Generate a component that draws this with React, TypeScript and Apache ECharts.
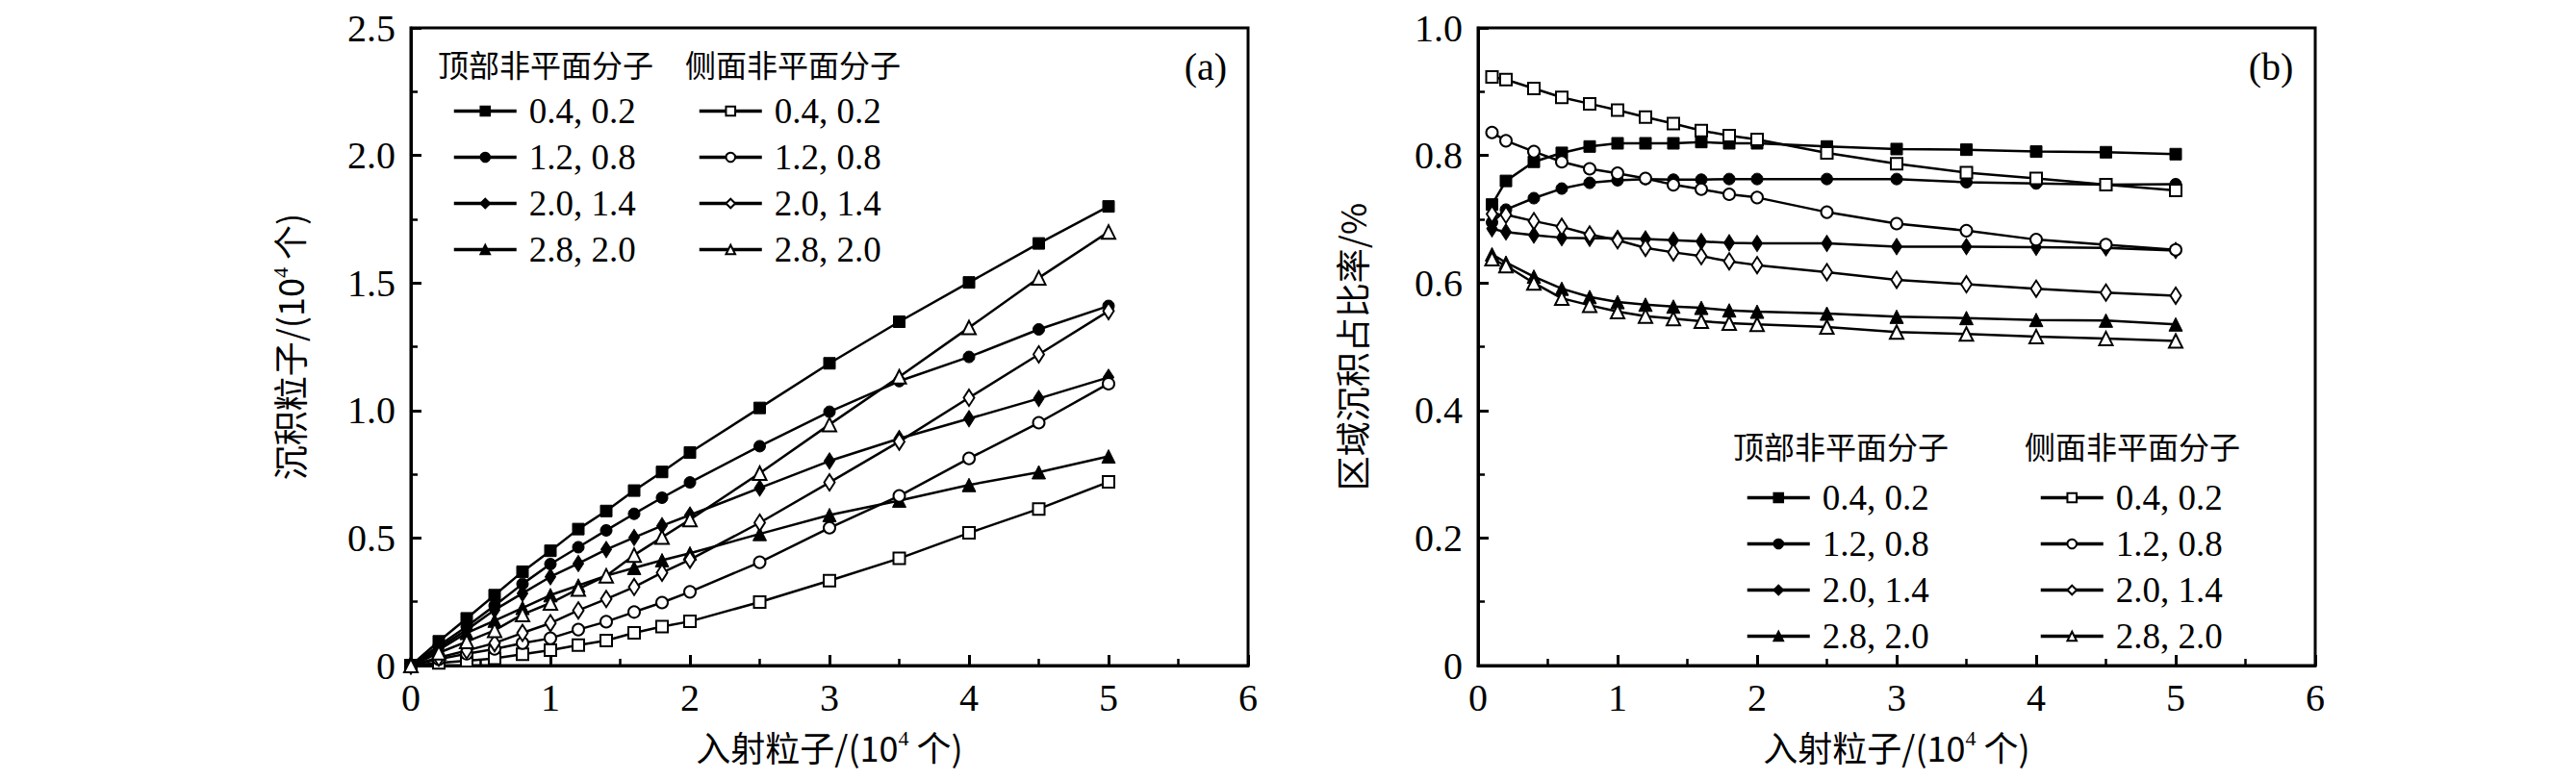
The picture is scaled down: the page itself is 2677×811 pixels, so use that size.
import React, { useEffect, useRef } from "react";
import * as echarts from "echarts";

// ---------- data ----------
const xLeft = [0, 0.2, 0.4, 0.6, 0.8, 1.0, 1.2, 1.4, 1.6, 1.8, 2.0, 2.5, 3.0, 3.5, 4.0, 4.5, 5.0];
const xRight = [0.1, 0.2, 0.4, 0.6, 0.8, 1.0, 1.2, 1.4, 1.6, 1.8, 2.0, 2.5, 3.0, 3.5, 4.0, 4.5, 5.0];

const legendLabels = ["0.4, 0.2", "1.2, 0.8", "2.0, 1.4", "2.8, 2.0"];
const headerTop = "顶部非平面分子";
const headerSide = "侧面非平面分子";

// (a) deposited particles
const aTop04 = [0, 0.095, 0.185, 0.276, 0.368, 0.45, 0.535, 0.606, 0.686, 0.759, 0.835, 1.01, 1.185, 1.348, 1.502, 1.655, 1.8];
const aTop12 = [0, 0.078, 0.153, 0.235, 0.32, 0.398, 0.464, 0.53, 0.595, 0.658, 0.718, 0.86, 0.995, 1.115, 1.21, 1.318, 1.41];
const aTop20 = [0, 0.07, 0.14, 0.218, 0.283, 0.348, 0.4, 0.455, 0.502, 0.548, 0.59, 0.696, 0.802, 0.89, 0.968, 1.047, 1.13];
const aTop28 = [0, 0.062, 0.128, 0.176, 0.226, 0.276, 0.314, 0.352, 0.383, 0.413, 0.44, 0.516, 0.59, 0.647, 0.708, 0.758, 0.82];
const aSide04 = [0, 0.01, 0.019, 0.028, 0.044, 0.06, 0.08, 0.098, 0.128, 0.153, 0.173, 0.249, 0.333, 0.42, 0.52, 0.614, 0.72];
const aSide12 = [0, 0.025, 0.046, 0.065, 0.088, 0.107, 0.141, 0.172, 0.21, 0.247, 0.289, 0.405, 0.54, 0.665, 0.812, 0.952, 1.105];
const aSide20 = [0, 0.031, 0.059, 0.088, 0.128, 0.166, 0.216, 0.261, 0.308, 0.364, 0.415, 0.56, 0.718, 0.878, 1.05, 1.22, 1.39];
const aSide28 = [0, 0.05, 0.094, 0.138, 0.2, 0.245, 0.3, 0.352, 0.433, 0.503, 0.572, 0.754, 0.945, 1.132, 1.325, 1.52, 1.7];

// (b) regional deposition ratio
const bTop04 = [0.723, 0.76, 0.79, 0.804, 0.814, 0.819, 0.819, 0.819, 0.821, 0.819, 0.819, 0.814, 0.81, 0.809, 0.806, 0.805, 0.802];
const bTop12 = [0.695, 0.715, 0.733, 0.748, 0.757, 0.761, 0.763, 0.762, 0.762, 0.763, 0.763, 0.763, 0.763, 0.758, 0.756, 0.754, 0.755];
const bTop20 = [0.685, 0.68, 0.675, 0.671, 0.67, 0.67, 0.669, 0.667, 0.665, 0.663, 0.662, 0.662, 0.657, 0.657, 0.656, 0.655, 0.651];
const bTop28 = [0.645, 0.632, 0.61, 0.591, 0.578, 0.57, 0.566, 0.563, 0.561, 0.557, 0.555, 0.552, 0.547, 0.545, 0.542, 0.541, 0.535];
const bSide04 = [0.923, 0.919, 0.905, 0.891, 0.881, 0.871, 0.86, 0.85, 0.839, 0.831, 0.825, 0.804, 0.787, 0.773, 0.764, 0.754, 0.745];
const bSide12 = [0.836, 0.823, 0.806, 0.79, 0.779, 0.772, 0.764, 0.754, 0.747, 0.739, 0.734, 0.711, 0.693, 0.682, 0.668, 0.66, 0.652];
const bSide20 = [0.708, 0.707, 0.697, 0.688, 0.676, 0.667, 0.655, 0.648, 0.642, 0.634, 0.628, 0.617, 0.605, 0.598, 0.591, 0.585, 0.58];
const bSide28 = [0.638, 0.627, 0.6, 0.576, 0.565, 0.555, 0.548, 0.544, 0.54, 0.537, 0.535, 0.531, 0.523, 0.52, 0.516, 0.513, 0.509];

const xTicks = [0, 1, 2, 3, 4, 5, 6];
const yLeftMax = 2.5;
const yRightMax = 1.0;

const SERIF = "'Liberation Serif', 'Noto Sans CJK SC', serif";
const CJK = "'Noto Sans CJK SC', 'Liberation Serif', sans-serif";

const filledSymbols = ["rect", "circle", "diamond", "triangle"];
const emptySymbols = ["emptyRect", "emptyCircle", "emptyDiamond", "emptyTriangle"];
const symbolSizes: any[] = [12, 12, [11, 17], 14];

function zip(xs: number[], ys: number[]) {
  return ys.map((y, i) => [xs[i], y]);
}

function makeSeries(prefix: string, idx: number, xs: number[], tops: number[][], sides: number[][]) {
  const out: any[] = [];
  tops.forEach((ys, i) => {
    out.push({
      name: `${prefix}-top|${legendLabels[i]}`,
      type: "line",
      xAxisIndex: idx,
      yAxisIndex: idx,
      data: zip(xs, ys),
      symbol: filledSymbols[i],
      symbolSize: symbolSizes[i],
      lineStyle: { color: "#000", width: 2.5 },
      itemStyle: { color: "#000", borderColor: "#000", borderWidth: 1 },
      clip: false,
    });
  });
  sides.forEach((ys, i) => {
    out.push({
      name: `${prefix}-side|${legendLabels[i]}`,
      type: "line",
      xAxisIndex: idx,
      yAxisIndex: idx,
      data: zip(xs, ys),
      symbol: emptySymbols[i],
      symbolSize: symbolSizes[i],
      lineStyle: { color: "#000", width: 2.5 },
      itemStyle: { color: "#000", borderColor: "#000", borderWidth: 2 },
      clip: false,
    });
  });
  return out;
}

function makeLegend(prefix: string, group: string, left: number, top: number) {
  return {
    orient: "vertical",
    left,
    top,
    itemWidth: 65,
    itemHeight: 12,
    itemGap: 11,
    selectedMode: false,
    padding: 0,
    data: legendLabels.map((l) => `${prefix}-${group}|${l}`),
    formatter: (n: string) => n.split("|")[1],
    lineStyle: { width: 3.5 },
    textStyle: { fontSize: 37, fontFamily: SERIF, color: "#000", lineHeight: 36, padding: [0, 0, 0, 8] },
  };
}

const axisCommon = {
  type: "value",
  splitLine: { show: false },
  axisLine: { show: true, onZero: false, lineStyle: { color: "#000", width: 3 } },
  axisTick: { show: true, inside: true, length: 11, lineStyle: { color: "#000", width: 3 } },
  minorTick: { show: true, splitNumber: 2, length: 7, lineStyle: { color: "#000", width: 2.5 } },
};

const labelStyle = { fontSize: 40, fontFamily: SERIF, color: "#000" };
const nameRich = {
  sup: { fontSize: 22, fontFamily: SERIF, verticalAlign: "top", lineHeight: 22, color: "#000" },
};

function xAxisDef(gi: number) {
  return {
    ...axisCommon,
    gridIndex: gi,
    min: xTicks[0],
    max: xTicks[xTicks.length - 1],
    interval: 1,
    axisLabel: { ...labelStyle, margin: 13, formatter: (v: number) => String(v) },
    name: "入射粒子/(10{sup|4} 个)",
    nameLocation: "middle",
    nameGap: 64,
    nameTextStyle: { fontSize: 36, fontFamily: CJK, color: "#000", lineHeight: 40, rich: nameRich },
  };
}

export default function App() {
  const ref = useRef<HTMLDivElement>(null);
  useEffect(() => {
    if (!ref.current) return;
    const chart = echarts.init(ref.current, null, { renderer: "svg" });
    const gridH = 663;
    const option: any = {
      animation: false,
      backgroundColor: "#fff",
      grid: [
        { left: 427, top: 29, width: 870, height: gridH, show: true, borderColor: "#000", borderWidth: 3, backgroundColor: "transparent" },
        { left: 1536, top: 29, width: 870, height: gridH, show: true, borderColor: "#000", borderWidth: 3, backgroundColor: "transparent" },
      ],
      xAxis: [xAxisDef(0), xAxisDef(1)],
      yAxis: [
        {
          ...axisCommon,
          gridIndex: 0,
          min: 0,
          max: yLeftMax,
          interval: 0.5,
          axisLabel: { ...labelStyle, margin: 16, formatter: (v: number) => (v === 0 ? "0" : v.toFixed(1)) },
          name: "沉积粒子/(10{sup|4} 个)",
          nameLocation: "middle",
          nameGap: 107,
          nameTextStyle: { fontSize: 36, fontFamily: CJK, color: "#000", lineHeight: 40, rich: nameRich },
        },
        {
          ...axisCommon,
          gridIndex: 1,
          min: 0,
          max: yRightMax,
          interval: 0.2,
          axisLabel: { ...labelStyle, margin: 16, formatter: (v: number) => (v === 0 ? "0" : v.toFixed(1)) },
          name: "区域沉积占比率/%",
          nameLocation: "middle",
          nameGap: 112,
          nameTextStyle: { fontSize: 36, fontFamily: CJK, color: "#000", lineHeight: 40 },
        },
      ],
      legend: [
        makeLegend("a", "top", 470, 97),
        makeLegend("a", "side", 725, 97),
        makeLegend("b", "top", 1814, 499),
        makeLegend("b", "side", 2119, 499),
      ],
      graphic: [
        { type: "text", x: 455, y: 66, style: { text: headerTop, fontSize: 32, fontFamily: CJK, fill: "#000", verticalAlign: "middle" } },
        { type: "text", x: 712, y: 66, style: { text: headerSide, fontSize: 32, fontFamily: CJK, fill: "#000", verticalAlign: "middle" } },
        { type: "text", x: 1801, y: 463, style: { text: headerTop, fontSize: 32, fontFamily: CJK, fill: "#000", verticalAlign: "middle" } },
        { type: "text", x: 2104, y: 463, style: { text: headerSide, fontSize: 32, fontFamily: CJK, fill: "#000", verticalAlign: "middle" } },
        { type: "text", x: 1253, y: 69, style: { text: "(a)", fontSize: 40, fontFamily: SERIF, fill: "#000", align: "center", verticalAlign: "middle" } },
        { type: "text", x: 2360, y: 69, style: { text: "(b)", fontSize: 40, fontFamily: SERIF, fill: "#000", align: "center", verticalAlign: "middle" } },
      ],
      series: [
        ...makeSeries("a", 0, xLeft, [aTop04, aTop12, aTop20, aTop28], [aSide04, aSide12, aSide20, aSide28]),
        ...makeSeries("b", 1, xRight, [bTop04, bTop12, bTop20, bTop28], [bSide04, bSide12, bSide20, bSide28]),
      ],
    };
    chart.setOption(option);
    return () => chart.dispose();
  }, []);
  return (
    <div
      ref={ref}
      style={{ position: "absolute", left: 0, top: 0, width: 2677, height: 811, background: "#fff" }}
    />
  );
}
